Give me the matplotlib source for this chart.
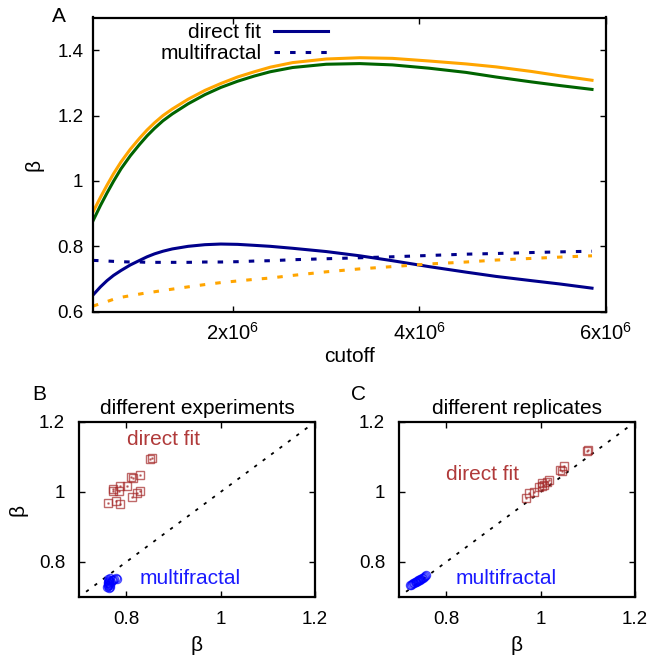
import numpy as np
import matplotlib
matplotlib.use("Agg")
import matplotlib.pyplot as plt
from matplotlib.ticker import FuncFormatter

plt.rcParams['font.family'] = ['Liberation Sans', 'DejaVu Sans']
plt.rcParams['mathtext.default'] = 'regular'

# ---- panel A: beta vs cutoff ----
cutoff = np.array([0.5, 0.58, 0.65, 0.72, 0.8, 0.9, 1.0, 1.08, 1.16, 1.25, 1.35,
                   1.52, 1.7, 1.87, 2.05, 2.23, 2.4, 2.64, 3.0, 3.36, 3.71, 4.1,
                   4.5, 4.82, 5.2, 5.5, 5.85]) * 1e6
direct_orange = [0.905, 0.950, 0.987, 1.022, 1.058, 1.097, 1.131, 1.156, 1.178, 1.200, 1.220,
                 1.250, 1.277, 1.298, 1.318, 1.334, 1.348, 1.362, 1.373, 1.377, 1.375, 1.367,
                 1.358, 1.349, 1.335, 1.322, 1.308]
direct_green = [0.878, 0.925, 0.963, 0.999, 1.037, 1.077, 1.112, 1.138, 1.161, 1.184, 1.205,
                1.236, 1.264, 1.286, 1.305, 1.321, 1.334, 1.347, 1.357, 1.359, 1.355, 1.345,
                1.332, 1.318, 1.303, 1.292, 1.280]
direct_navy = [0.651, 0.676, 0.695, 0.711, 0.726, 0.743, 0.757, 0.768, 0.777, 0.785, 0.792,
               0.800, 0.805, 0.807, 0.806, 0.803, 0.800, 0.794, 0.784, 0.771, 0.756, 0.738,
               0.721, 0.708, 0.695, 0.685, 0.672]
multi_navy = [0.757, 0.756, 0.755, 0.754, 0.753, 0.752, 0.752, 0.751, 0.751, 0.751, 0.751,
              0.751, 0.752, 0.752, 0.753, 0.755, 0.756, 0.759, 0.762, 0.765, 0.768, 0.772,
              0.776, 0.778, 0.781, 0.783, 0.785]
multi_orange = [0.617, 0.625, 0.631, 0.638, 0.644, 0.649, 0.654, 0.658, 0.661, 0.665, 0.669,
                0.676, 0.683, 0.689, 0.694, 0.699, 0.703, 0.711, 0.722, 0.731, 0.738, 0.746,
                0.752, 0.758, 0.763, 0.767, 0.771]

# ---- panel B: different experiments ----
expB_direct_x = [0.855, 0.830, 0.811, 0.814, 0.801, 0.787, 0.773, 0.773, 0.784, 0.830,
                 0.823, 0.813, 0.778, 0.762, 0.787, 0.851]
expB_direct_y = [1.097, 1.050, 1.042, 1.039, 1.016, 1.016, 1.009, 1.003, 1.002, 1.002,
                 0.996, 0.986, 0.975, 0.969, 0.967, 1.093]
expB_multi_x = [0.760, 0.761, 0.762, 0.763, 0.761, 0.762, 0.764, 0.763, 0.762, 0.765,
                0.766, 0.764, 0.768, 0.770, 0.772, 0.775, 0.778, 0.781, 0.763, 0.766]
expB_multi_y = [0.728, 0.731, 0.734, 0.737, 0.740, 0.743, 0.746, 0.749, 0.752, 0.755,
                0.733, 0.739, 0.744, 0.748, 0.750, 0.752, 0.753, 0.751, 0.726, 0.729]

# ---- panel C: different replicates ----
repC_direct_x = [1.098, 1.101, 1.041, 1.046, 1.050, 1.018, 1.014, 1.004, 1.007, 1.002,
                 0.996, 0.987, 0.975, 0.970]
repC_direct_y = [1.116, 1.119, 1.062, 1.059, 1.073, 1.033, 1.028, 1.026, 1.021, 1.016,
                 1.014, 0.999, 0.998, 0.984]
repC_multi_x = [0.724, 0.726, 0.728, 0.730, 0.732, 0.734, 0.735, 0.737, 0.738, 0.740,
                0.741, 0.742, 0.744, 0.745, 0.746, 0.748, 0.750, 0.752, 0.755, 0.757]
repC_multi_y = [0.734, 0.735, 0.737, 0.739, 0.740, 0.742, 0.743, 0.744, 0.745, 0.747,
                0.748, 0.749, 0.750, 0.751, 0.752, 0.754, 0.755, 0.757, 0.760, 0.762]

diag = [0.715, 1.19]

ORANGE = '#ffa500'
GREEN = '#006400'
NAVY = '#00008b'
BROWN = '#a52a2a'
BLUE = '#0000ff'
FS = 15

W, H = 666, 659
fig = plt.figure(figsize=(W / 100, H / 100), dpi=100)


def px_axes(l, t, r, b):
    return fig.add_axes([l / W, 1 - b / H, (r - l) / W, (b - t) / H])


def style(ax, pad):
    for s in ax.spines.values():
        s.set_linewidth(1.6)
    ax.tick_params(direction='in', top=True, right=True, length=4.5, width=1,
                   labelsize=13.5, pad=pad)
    ax.yaxis.set_major_formatter(FuncFormatter(lambda v, p: '%g' % round(v, 3)))


dash = (0, (1.8, 3.3))

# panel A
axA = px_axes(93, 17.5, 606, 311.7)
axA.plot(cutoff, direct_orange, color=ORANGE, lw=2.2)
axA.plot(cutoff, direct_green, color=GREEN, lw=2.2)
axA.plot(cutoff, direct_navy, color=NAVY, lw=2.2, label='direct fit')
axA.plot(cutoff, multi_navy, color=NAVY, lw=2.2, ls=dash, label='multifractal')
axA.plot(cutoff, multi_orange, color=ORANGE, lw=2.2, ls=dash)
axA.set_xlim(0.5e6, 6e6)
axA.set_ylim(0.6, 1.5)
axA.set_xticks([2e6, 4e6, 6e6])
axA.set_yticks([0.6, 0.8, 1.0, 1.2, 1.4])
style(axA, 7)
axA.set_xticklabels([r'2x10$^{6}$', r'4x10$^{6}$', r'6x10$^{6}$'], fontsize=14.5)
axA.set_xlabel('cutoff', fontsize=FS, labelpad=3)
axA.set_ylabel('β', fontsize=FS, labelpad=10)
axA.legend(loc='upper right', bbox_to_anchor=(328 / W, 1 - 23 / H),
           bbox_transform=fig.transFigure, frameon=False, markerfirst=False,
           fontsize=FS, handlelength=2.6, handletextpad=0.6, labelspacing=0.1,
           borderpad=0, borderaxespad=0)
fig.text(59 / W, 1 - 16 / H, 'A', fontsize=FS, ha='center', va='center')

# panels B and C
panels = [
    (79, 315, expB_direct_x, expB_direct_y, expB_multi_x, expB_multi_y,
     'different experiments', 'B', 39, (0.878, 1.149), (0.936, 0.752), True),
    (399, 635, repC_direct_x, repC_direct_y, repC_multi_x, repC_multi_y,
     'different replicates', 'C', 359, (0.877, 1.05), (0.927, 0.752), False),
]
for l, r, dx, dy, mx, my, title, tag, tagx, dpos, mpos, ylab in panels:
    ax = px_axes(l, 422, r, 597)
    ax.plot(diag, diag, color='black', lw=1.3, ls=(0, (1.8, 4.0)))
    ax.plot(dx, dy, ls='none', marker='s', ms=6.3, mfc='none', mec=BROWN,
            mew=1.0, alpha=0.7)
    ax.plot(dx, dy, ls='none', marker='s', ms=1.0, mfc=BROWN, mec=BROWN,
            mew=0.5, alpha=0.7)
    ax.plot(mx, my, ls='none', marker='o', ms=5.8, mfc='none', mec=BLUE,
            mew=1.0, alpha=0.7)
    ax.set_xlim(0.7, 1.2)
    ax.set_ylim(0.7, 1.2)
    ax.set_xticks([0.8, 1.0, 1.2])
    ax.set_yticks([0.8, 1.0, 1.2])
    style(ax, 10)
    ax.xaxis.set_major_formatter(FuncFormatter(lambda v, p: '%g' % round(v, 3)))
    ax.text(dpos[0], dpos[1], 'direct fit', color='#b03a3a', fontsize=FS,
            ha='center', va='center')
    ax.text(mpos[0], mpos[1], 'multifractal', color='#1a1aff', fontsize=FS,
            ha='center', va='center')
    ax.set_title(title, fontsize=FS, pad=6)
    ax.set_xlabel('β', fontsize=FS, labelpad=6)
    if ylab:
        ax.set_ylabel('β', fontsize=FS, labelpad=8)
    fig.text(tagx / W, 1 - 395 / H, tag, fontsize=FS, ha='center', va='center')

fig.savefig('out.png', dpi=100)
